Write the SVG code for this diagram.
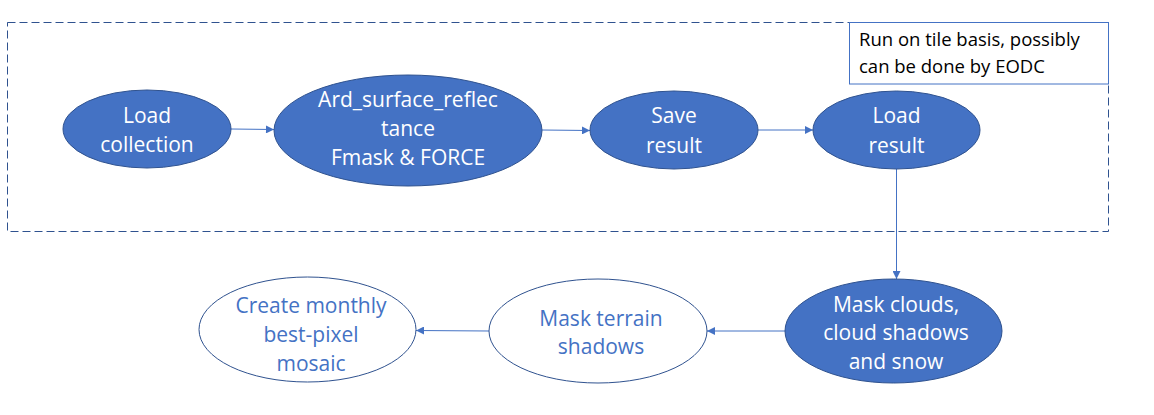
<svg xmlns="http://www.w3.org/2000/svg" width="1154" height="415" viewBox="0 0 1154 415">
<style>
.fill{fill:#4472C4;stroke:#2F528F;stroke-width:1}
.hollow{fill:#FFFFFF;stroke:#2F528F;stroke-width:1}
.wt{font-family:"Open Sans","Liberation Sans",sans-serif;font-size:21px;fill:#FFFFFF;text-anchor:middle}
.bt{font-family:"Open Sans","Liberation Sans",sans-serif;font-size:21px;fill:#4472C4;text-anchor:middle}
.note{font-family:"Open Sans","Liberation Sans",sans-serif;font-size:18.5px;fill:#000000}
.conn{stroke:#4472C4;stroke-width:1;fill:none;marker-end:url(#arr)}
</style>
<defs>
<marker id="arr" viewBox="0 0 10 10" refX="10" refY="5" markerWidth="9" markerHeight="8" markerUnits="userSpaceOnUse" orient="auto">
<path d="M0,0 L10,5 L0,10 Z" fill="#4472C4"/>
</marker>
</defs>
<rect width="1154" height="415" fill="#FFFFFF"/>
<g id="tile-boundary">
<rect x="7.5" y="22.5" width="1101" height="209" fill="none" stroke="#2F528F" stroke-width="1" stroke-dasharray="8,4"/>
</g>
<g id="note">
<rect x="849.5" y="22.5" width="259" height="61.5" fill="#FFFFFF" stroke="#4472C4" stroke-width="1"/>
<text class="note" x="859" y="46">Run on tile basis, possibly</text>
<text class="note" x="859" y="73">can be done by EODC</text>
</g>
<g id="connectors">
<line class="conn" x1="231" y1="129" x2="274" y2="129.5"/>
<line class="conn" x1="542" y1="130" x2="590" y2="130.5"/>
<line class="conn" x1="758" y1="130" x2="813" y2="130"/>
<line class="conn" x1="896.5" y1="169" x2="896.5" y2="279"/>
<line class="conn" x1="785" y1="331" x2="707" y2="331"/>
<line class="conn" x1="489" y1="331" x2="416" y2="330.5"/>
</g>
<g id="load-collection">
<ellipse class="fill" cx="147" cy="129" rx="84" ry="39"/>
<text class="wt" x="147" y="123">Load</text>
<text class="wt" x="147" y="152">collection</text>
</g>
<g id="ard-surface">
<ellipse class="fill" cx="408" cy="130.5" rx="134" ry="55.5"/>
<text class="wt" x="408" y="107">Ard_surface_reflec</text>
<text class="wt" x="408" y="136">tance</text>
<text class="wt" x="408" y="165">Fmask &amp; FORCE</text>
</g>
<g id="save-result">
<ellipse class="fill" cx="674" cy="130" rx="84" ry="39"/>
<text class="wt" x="674" y="123">Save</text>
<text class="wt" x="674" y="153">result</text>
</g>
<g id="load-result">
<ellipse class="fill" cx="896.5" cy="130" rx="83.5" ry="39"/>
<text class="wt" x="896.5" y="123">Load</text>
<text class="wt" x="896.5" y="153">result</text>
</g>
<g id="mask-clouds">
<ellipse class="fill" cx="893.5" cy="331" rx="108.5" ry="52"/>
<text class="wt" x="896" y="312">Mask clouds,</text>
<text class="wt" x="896" y="340">cloud shadows</text>
<text class="wt" x="896" y="369">and snow</text>
</g>
<g id="mask-terrain">
<ellipse class="hollow" cx="598" cy="331" rx="109" ry="52"/>
<text class="bt" x="601" y="326">Mask terrain</text>
<text class="bt" x="601" y="354">shadows</text>
</g>
<g id="create-mosaic">
<ellipse class="hollow" cx="307.5" cy="329.5" rx="108.5" ry="52.5"/>
<text class="bt" x="311" y="313">Create monthly</text>
<text class="bt" x="311" y="342">best-pixel</text>
<text class="bt" x="311" y="371">mosaic</text>
</g>
</svg>
